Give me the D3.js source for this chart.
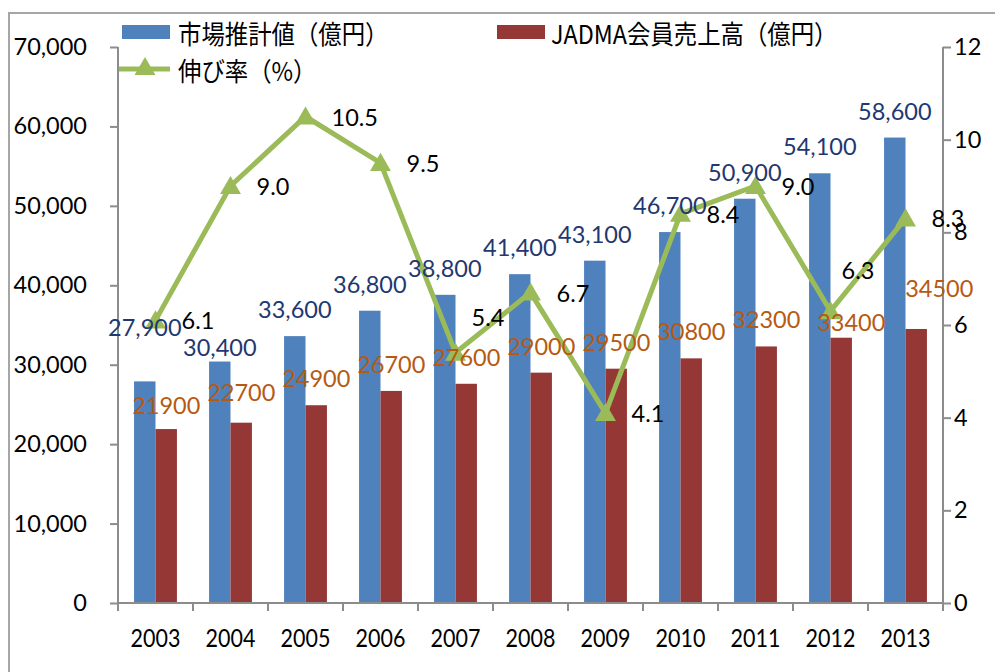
<!DOCTYPE html>
<html><head><meta charset="utf-8">
<script src="https://cdn.jsdelivr.net/npm/d3@7"></script>
<style>
html,body{margin:0;padding:0;background:#fff;}
svg{display:block;}
</style>
</head><body>
<svg id="chart" width="995" height="672"></svg>
<script>
// ---- data ----
const years = ["2003","2004","2005","2006","2007","2008","2009","2010","2011","2012","2013"];
const marketValues = [27900,30400,33600,36800,38800,41400,43100,46700,50900,54100,58600];
const jadmaValues  = [21900,22700,24900,26700,27600,29000,29500,30800,32300,33400,34500];
const growthValues = [6.1,9.0,10.5,9.5,5.4,6.7,4.1,8.4,9.0,6.3,8.3];
const leftTicks  = [0,10000,20000,30000,40000,50000,60000,70000];
const rightTicks = [0,2,4,6,8,10,12];
const seriesNames = ["市場推計値（億円）","JADMA会員売上高（億円）","伸び率（%）"];

// ---- layout / style (not data) ----
const W = 995, H = 672;
const plot = {left:118, right:943, top:47, bottom:603};
const colors = {market:"#4F81BD", jadma:"#953735", growth:"#9BBB59",
  marketLbl:"#1F3870", jadmaLbl:"#B65A12", axis:"#8C8C8C", frame:"#A6A6A6"};
const numFont = "Lato, 'Open Sans', sans-serif";
const cjkFont = "'Noto Sans CJK JP', 'Noto Sans', sans-serif";
// manual label nudges copied from the reference layout
const marketNudge = {"2003":[0,-27],"2004":[0,12]};
const jadmaNudge  = {"2003":[0,3],"2004":[0,-4],"2012":[10,11],"2013":[23,-14]};
const growthNudge = {"2007":[-10,-36],"2012":[-15,-41]};

const svg = d3.select("#chart");
svg.append("rect").attr("width",W).attr("height",H).attr("fill","#fff");

// frame (cropped at right/bottom)
svg.append("path").attr("d",`M9,${H} V13 H${W}`).attr("fill","none")
  .attr("stroke",colors.frame).attr("stroke-width",2);

const x = d3.scaleBand().domain(years).range([plot.left, plot.right]).paddingInner(0).paddingOuter(0);
const x1 = d3.scaleBand().domain(["market","jadma"]).range([0, x.bandwidth()]).paddingInner(0).paddingOuter(0.75);
const yL = d3.scaleLinear().domain([0,70000]).range([plot.bottom, plot.top]);
const yR = d3.scaleLinear().domain([0,12]).range([plot.bottom, plot.top]);

// bars
const g = svg.append("g");
g.selectAll("rect.m").data(years).join("rect").attr("class","m")
  .attr("x", d => x(d) + x1("market")).attr("width", x1.bandwidth())
  .attr("y", (d,i) => yL(marketValues[i])).attr("height", (d,i) => yL(0) - yL(marketValues[i]))
  .attr("fill", colors.market);
g.selectAll("rect.j").data(years).join("rect").attr("class","j")
  .attr("x", d => x(d) + x1("jadma")).attr("width", x1.bandwidth())
  .attr("y", (d,i) => yL(jadmaValues[i])).attr("height", (d,i) => yL(0) - yL(jadmaValues[i]))
  .attr("fill", colors.jadma);

// axes
const axL = svg.append("g").attr("transform",`translate(${plot.left},0)`)
  .call(d3.axisLeft(yL).tickValues(leftTicks).tickSize(8).tickPadding(23).tickFormat(d3.format(",")));
const axR = svg.append("g").attr("transform",`translate(${plot.right},0)`)
  .call(d3.axisRight(yR).tickValues(rightTicks).tickSize(8).tickPadding(3).tickFormat(d3.format("d")));
[axL, axR].forEach(a => {
  a.select(".domain").attr("stroke",colors.axis).attr("stroke-width",2).attr("d", `M0,${plot.top}V${plot.bottom}`);
  a.selectAll(".tick line").attr("stroke",colors.axis).attr("stroke-width",2);
  a.selectAll(".tick text").attr("font-family",numFont).attr("font-size",23.5).attr("fill","#000");
});
// x axis
const ax = svg.append("g");
ax.append("line").attr("x1",plot.left).attr("x2",plot.right).attr("y1",plot.bottom).attr("y2",plot.bottom)
  .attr("stroke",colors.axis).attr("stroke-width",2);
const bounds = years.map(d => x(d)).concat([x.range()[1]]);
ax.selectAll("line.t").data(bounds).join("line").attr("class","t")
  .attr("x1",d=>d).attr("x2",d=>d).attr("y1",plot.bottom).attr("y2",plot.bottom+8)
  .attr("stroke",colors.axis).attr("stroke-width",2);
ax.selectAll("text").data(years).join("text")
  .attr("transform", d => `translate(${x(d) + x.bandwidth()/2},637) scale(0.86,1)`)
  .attr("text-anchor","middle").attr("dominant-baseline","central")
  .attr("font-family",numFont).attr("font-size",25).attr("fill","#000").text(d=>d);

// growth line
const cx = d => x(d) + x.bandwidth()/2;
const line = d3.line().x((d,i)=>cx(years[i])).y(d=>yR(d));
svg.append("path").datum(growthValues).attr("d",line).attr("fill","none")
  .attr("stroke",colors.growth).attr("stroke-width",5).attr("stroke-linejoin","miter");
const tri = d3.symbol().type(d3.symbolTriangle).size(190);
svg.selectAll("path.mk").data(growthValues).join("path").attr("class","mk")
  .attr("d",tri).attr("transform",(d,i)=>`translate(${cx(years[i])},${yR(d)+2})`)
  .attr("fill",colors.growth);

// data labels
const labels = svg.append("g");
labels.selectAll("text.ml").data(years).join("text").attr("class","ml")
  .attr("x",(d,i)=> x(d)+x1("market")+x1.bandwidth()/2 + (marketNudge[d]||[0,0])[0])
  .attr("y",(d,i)=> yL(marketValues[i]) - 27 + (marketNudge[d]||[0,0])[1])
  .attr("text-anchor","middle").attr("dominant-baseline","central")
  .attr("font-family",numFont).attr("font-size",23.5).attr("fill",colors.marketLbl)
  .text((d,i)=>d3.format(",")(marketValues[i]));
labels.selectAll("text.jl").data(years).join("text").attr("class","jl")
  .attr("x",(d,i)=> x(d)+x1("jadma")+x1.bandwidth()/2 + (jadmaNudge[d]||[0,0])[0])
  .attr("y",(d,i)=> yL(jadmaValues[i]) - 27 + (jadmaNudge[d]||[0,0])[1])
  .attr("text-anchor","middle").attr("dominant-baseline","central")
  .attr("font-family",numFont).attr("font-size",23.5).attr("fill",colors.jadmaLbl)
  .text((d,i)=>String(jadmaValues[i]));
labels.selectAll("text.gl").data(years).join("text").attr("class","gl")
  .attr("x",(d,i)=> cx(d) + 26 + (growthNudge[d]||[0,0])[0])
  .attr("y",(d,i)=> yR(growthValues[i]) + (growthNudge[d]||[0,0])[1])
  .attr("text-anchor","start").attr("dominant-baseline","central")
  .attr("font-family",numFont).attr("font-size",23.5).attr("fill","#000")
  .text((d,i)=>d3.format(".1f")(growthValues[i]));

// legend
const lg = svg.append("g");
lg.append("rect").attr("x",122).attr("y",25).attr("width",48).attr("height",14).attr("fill",colors.market);
lg.append("rect").attr("x",497).attr("y",25).attr("width",48).attr("height",14).attr("fill",colors.jadma);
lg.append("line").attr("x1",119).attr("x2",170).attr("y1",69).attr("y2",69).attr("stroke",colors.growth).attr("stroke-width",5);
lg.append("path").attr("d",tri).attr("transform","translate(145,69)").attr("fill",colors.growth);
const legendPos = [[178,32],[551,32],[178,69]];
lg.selectAll("text").data(seriesNames).join("text")
  .attr("transform",(d,i)=>`translate(${legendPos[i][0]},${legendPos[i][1]}) scale(0.9,1)`)
  .attr("dominant-baseline","central").attr("font-family",cjkFont).attr("font-size",26)
  .attr("fill","#000").text(d=>d);
</script>
</body></html>
